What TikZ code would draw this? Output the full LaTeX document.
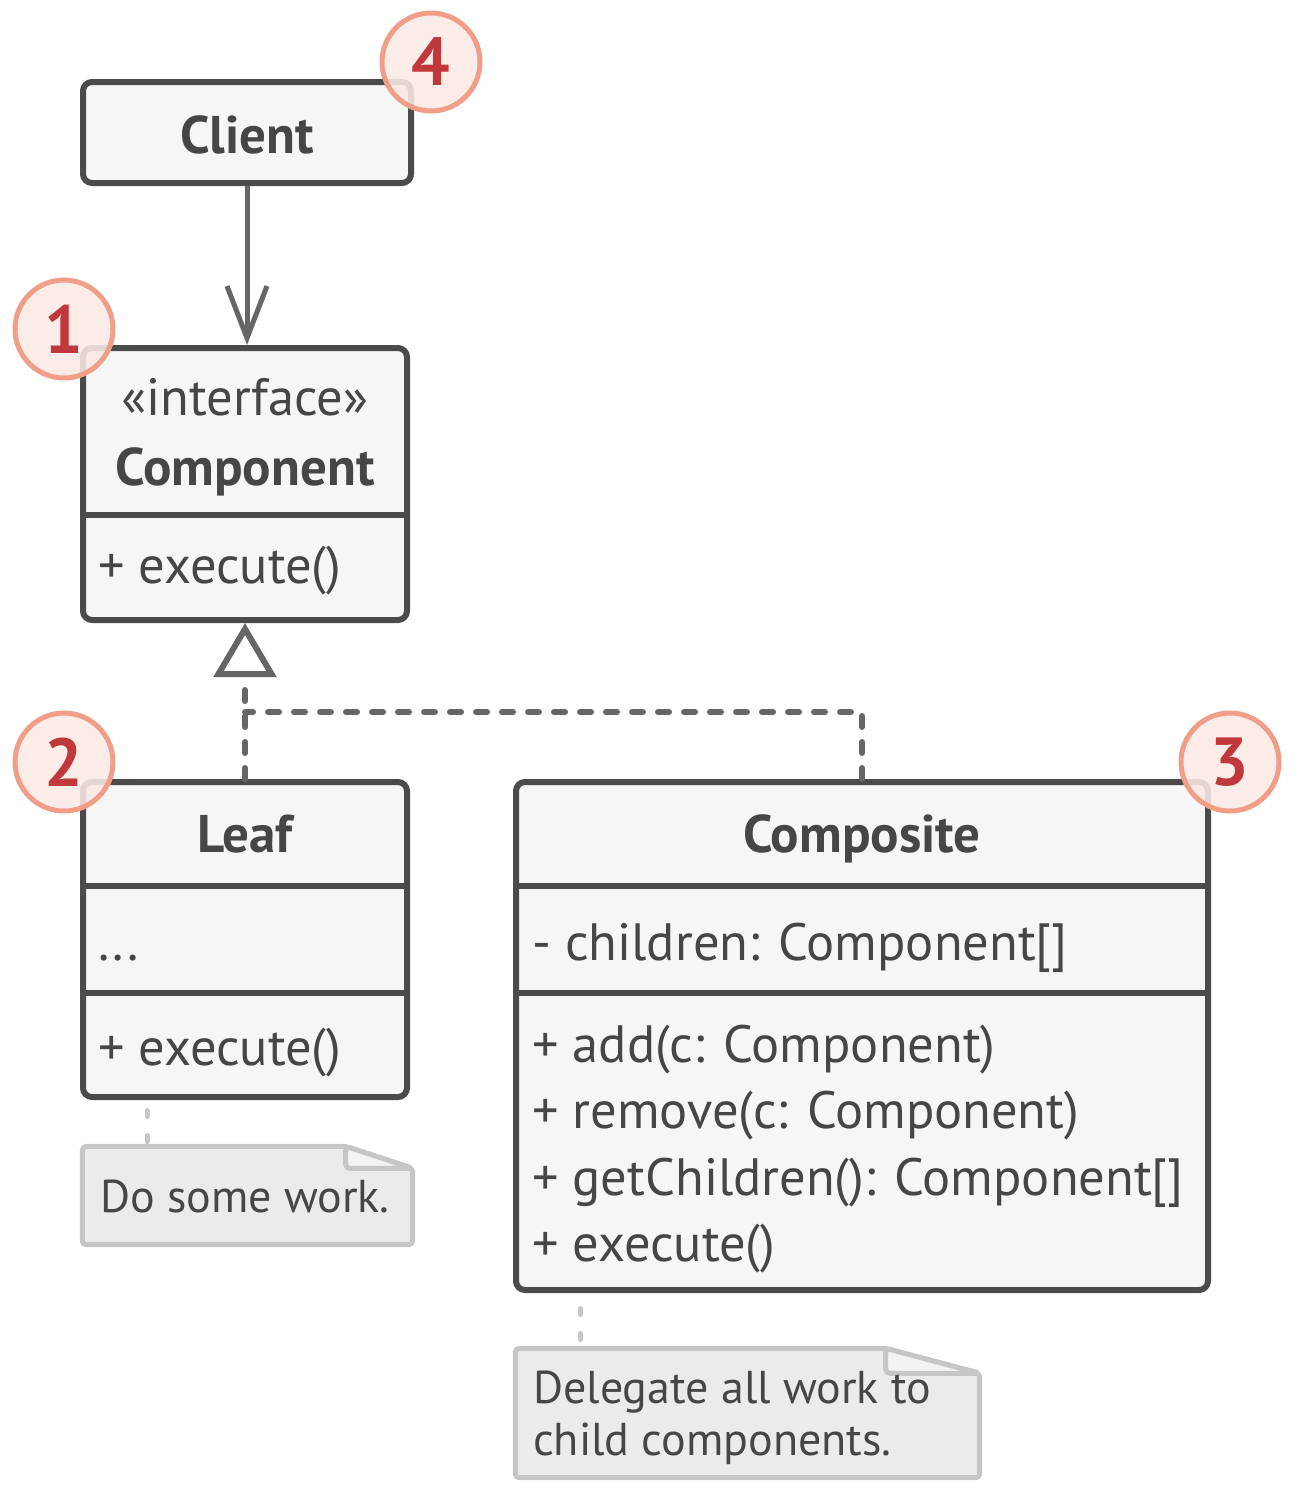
\documentclass[tikz,border=0pt]{standalone}
\usepackage{fontspec}
\setmainfont{PT Sans}
\usetikzlibrary{arrows.meta}
\definecolor{boxline}{HTML}{4B4B4B}
\definecolor{boxfill}{HTML}{F6F6F6}
\definecolor{txt}{HTML}{464646}
\definecolor{conn}{HTML}{666666}
\definecolor{badgeline}{HTML}{F09E88}
\definecolor{badgefill}{HTML}{FBE9E5}
\definecolor{badgetxt}{HTML}{C0383B}
\definecolor{noteline}{HTML}{C6C6C6}
\definecolor{notefill}{HTML}{EBEBEB}
\definecolor{foldfill}{HTML}{F3F3F3}
\begin{document}
\begin{tikzpicture}[x=1pt,y=-1pt,
  classbox/.style={draw=boxline,fill=boxfill,line width=6pt,rounded corners=9pt,inner sep=0pt},
  divider/.style={draw=boxline,line width=6pt},
  hdr/.style={font=\fontsize{53}{60}\selectfont\bfseries,text=txt,inner sep=0pt,anchor=base},
  member/.style={font=\fontsize{52.5}{60}\selectfont,text=txt,inner sep=0pt,anchor=base west},
  stereo/.style={font=\fontsize{52.5}{60}\selectfont,text=txt,inner sep=0pt,anchor=base},
  notetxt/.style={font=\fontsize{46}{55}\selectfont,text=txt,inner sep=0pt,anchor=base west},
  badge/.style={circle,draw=badgeline,fill=badgefill,fill opacity=0.88,text opacity=1,line width=5pt,minimum size=98pt,inner sep=0pt,font=\fontsize{68}{68}\selectfont\bfseries,text=badgetxt},
  assoc/.style={draw=conn,line width=5pt,-{Straight Barb[length=52pt,width=40pt]}},
  realize/.style={draw=conn,line width=6pt,line cap=round,dash pattern=on 11pt off 15pt,-{Triangle[open,length=54pt,width=62pt,line cap=butt]}},
  dashline/.style={draw=conn,line width=6pt,line cap=round,dash pattern=on 11pt off 15pt},
  notearea/.style={inner sep=0pt},
  notestyle/.style={draw=noteline,line width=5pt,rounded corners=4pt,line join=round},
  noteconn/.style={draw=noteline,line width=5pt,line cap=round,dash pattern=on 6pt off 19pt}
]
\useasboundingbox (0,0) rectangle (1298,1500);

% Client
\node[classbox,minimum width=328pt,minimum height=101pt] (client) at (247,132.5) {};
\node[hdr] (clientT) at (247,153) {Client};

% Component
\node[classbox,minimum width=324pt,minimum height=272pt] (comp) at (245,484) {};
\draw[divider] (comp.west |- 0,515) -- (comp.east |- 0,515);
\node[stereo] (compS) at (245,415) {«interface»};
\node[hdr] (compT) at (245,485) {Component};
\node[member] (compM) at (98,583) {+ execute()};

% Leaf
\node[classbox,minimum width=324pt,minimum height=315pt] (leaf) at (245,939.5) {};
\draw[divider] (leaf.west |- 0,886) -- (leaf.east |- 0,886);
\draw[divider] (leaf.west |- 0,993) -- (leaf.east |- 0,993);
\node[hdr] (leafT) at (245,852) {Leaf};
\node[member] (leafA) at (98,960) {...};
\node[member] (leafM) at (98,1065) {+ execute()};

% Composite
\node[classbox,minimum width=692pt,minimum height=508pt] (cmp) at (862,1036) {};
\draw[divider] (cmp.west |- 0,886) -- (cmp.east |- 0,886);
\draw[divider] (cmp.west |- 0,993) -- (cmp.east |- 0,993);
\node[hdr] (cmpT) at (862,852) {Composite};
\node[member] (cmpA) at (532,960) {- children: Component[]};
\node[member] (cmpM1) at (532,1062) {+ add(c: Component)};
\node[member] (cmpM2) at (532,1128.5) {+ remove(c: Component)};
\node[member] (cmpM3) at (532,1195) {+ getChildren(): Component[]};
\node[member] (cmpM4) at (532,1261.5) {+ execute()};

% Connectors
\draw[assoc] (client.south) -- (client.south |- comp.north);
\coordinate (junc) at (245,712);
\draw[realize] (leaf.north) -- (leaf.north |- comp.south);
\draw[dashline] (cmp.north) |- (junc);

% Notes
\node[notearea,minimum width=330pt,minimum height=98pt] (note1) at (247.5,1195.5) {};
\draw[notestyle,fill=notefill] (note1.south west) -- (note1.north west) -- ([xshift=-67pt]note1.north east) -- ([yshift=-22pt]note1.north east) -- (note1.south east) -- cycle;
\draw[notestyle,fill=foldfill] ([xshift=-67pt]note1.north east) -- ([xshift=-67pt,yshift=-22pt]note1.north east) -- ([yshift=-22pt]note1.north east) -- cycle;
\node[notetxt] (note1T) at (100,1212) {Do some work.};
\coordinate (c1) at (147,1110.5);
\draw[noteconn] (c1) -- (c1 |- note1.north);

\node[notearea,minimum width=464pt,minimum height=129pt] (note2) at (747.5,1413) {};
\draw[notestyle,fill=notefill] (note2.south west) -- (note2.north west) -- ([xshift=-94pt]note2.north east) -- ([yshift=-25pt]note2.north east) -- (note2.south east) -- cycle;
\draw[notestyle,fill=foldfill] ([xshift=-94pt]note2.north east) -- ([xshift=-94pt,yshift=-25pt]note2.north east) -- ([yshift=-25pt]note2.north east) -- cycle;
\node[notetxt] (note2T1) at (533,1403) {Delegate all work to};
\node[notetxt] (note2T2) at (533,1455) {child components.};
\coordinate (c2) at (580,1308.5);
\draw[noteconn] (c2) -- (c2 |- note2.north);

% Badges
\node[badge] (b4) at (431,62) {4};
\node[badge] (b1) at (64,329) {1};
\node[badge] (b2) at (64,762) {2};
\node[badge] (b3) at (1230,762) {3};
\end{tikzpicture}
\end{document}
